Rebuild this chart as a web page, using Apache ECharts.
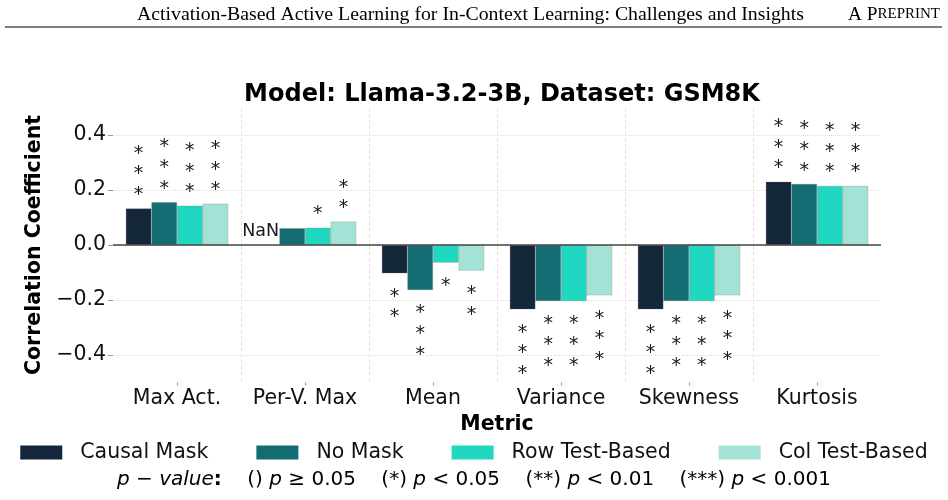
<!DOCTYPE html>
<html>
<head>
<meta charset="utf-8">
<script src="https://cdn.jsdelivr.net/npm/echarts@6/dist/echarts.min.js"></script>
<style>
html, body { margin: 0; padding: 0; background: #ffffff; }
#container { width: 948px; height: 500px; }
</style>
</head>
<body>
<div id="container"></div>
<script type="text/javascript">
// values (NaN = no value for that cell)
var metrics = ['Max Act.', 'Per-V. Max', 'Mean', 'Variance', 'Skewness', 'Kurtosis'];
var seriesNames = ['Causal Mask', 'No Mask', 'Row Test-Based', 'Col Test-Based'];
var colors = ['#13263a', '#136c72', '#20d8c0', '#a3e3d6'];

var causalMask = [0.133, NaN, -0.103, -0.234, -0.234, 0.230];
var noMask     = [0.156, 0.061, -0.164, -0.204, -0.204, 0.222];
var rowTest    = [0.143, 0.063, -0.064, -0.204, -0.204, 0.215];
var colTest    = [0.150, 0.085, -0.093, -0.183, -0.183, 0.215];

// number of stars (significance level) per bar
var causalStars = [3, 0, 2, 3, 3, 3];
var noMaskStars = [3, 0, 3, 3, 3, 3];
var rowStars    = [3, 1, 1, 3, 3, 3];
var colStars    = [3, 2, 2, 3, 3, 3];

var yTicks = [-0.4, -0.2, 0, 0.2, 0.4];
// category boundaries between the groups (dashed separators)
var groupEdges = [1, 2, 3, 4, 5];

var font = 'DejaVu Sans';

function starText(n) {
    var s = [];
    for (var k = 0; k < n; k++) s.push('*');
    return s.join('\n');
}

function buildData(values, stars) {
    return values.map(function (v, i) {
        if (isNaN(v)) {
            return {
                value: 0,
                itemStyle: { borderWidth: 0 },
                label: { show: true, position: 'top', distance: 4, offset: [-6, 0], formatter: 'NaN', fontSize: 17.5, lineHeight: 20 }
            };
        }
        return {
            value: v,
            label: {
                show: stars[i] > 0,
                position: v >= 0 ? 'top' : 'bottom',
                distance: v >= 0 ? 3 : 13,
                formatter: starText(stars[i])
            }
        };
    });
}

var allValues = [causalMask, noMask, rowTest, colTest];
var allStars = [causalStars, noMaskStars, rowStars, colStars];

var series = [];
for (var s = 0; s < 4; s++) {
    series.push({
        name: seriesNames[s],
        type: 'bar',
        barGap: '0%',
        barCategoryGap: '20%',
        itemStyle: { color: colors[s], borderColor: 'rgba(110,110,110,0.45)', borderWidth: 0.6 },
        label: {
            color: '#1a1a1a',
            fontFamily: font,
            fontSize: 19,
            lineHeight: 20.7
        },
        data: buildData(allValues[s], allStars[s])
    });
}
// zero line
series[0].markLine = {
    silent: true,
    symbol: 'none',
    label: { show: false },
    lineStyle: { color: '#444444', width: 1.6, type: 'solid' },
    data: [{ yAxis: 0 }]
};

var dom = document.getElementById("container");
var myChart = echarts.init(dom);
var option = {
    animation: false,
    backgroundColor: '#ffffff',
    textStyle: { fontFamily: font },
    title: {
        text: 'Model: Llama-3.2-3B, Dataset: GSM8K',
        left: 497,
        textAlign: 'center',
        top: 78,
        textStyle: { fontFamily: font, fontSize: 24, fontWeight: 'bold', color: '#000' }
    },
    grid: { left: 113, right: 67, top: 107.5, bottom: 117.5 },
    legend: {
        data: seriesNames,
        left: 'center',
        top: 437,
        itemWidth: 42,
        itemHeight: 14,
        itemGap: 48,
        icon: 'rect',
        itemStyle: { borderWidth: 0 },
        textStyle: { fontFamily: font, fontSize: 20.5, color: '#111', padding: [0, 0, 0, 13] }
    },
    xAxis: [
        {
            type: 'category',
            data: metrics,
            name: 'Metric',
            nameLocation: 'middle',
            nameGap: 32,
            nameTextStyle: { fontFamily: font, fontSize: 20.5, fontWeight: 'bold', color: '#000' },
            axisLine: { show: false, onZero: false },
            axisTick: { show: true, alignWithLabel: true, length: 3, lineStyle: { color: '#999' } },
            axisLabel: { fontFamily: font, fontSize: 20.5, color: '#111', margin: 6, interval: 0 },
            splitLine: { show: false }
        },
        {
            // helper axis only for the dashed separators between groups
            type: 'value',
            min: 0,
            max: metrics.length,
            position: 'bottom',
            axisLine: { show: false },
            axisTick: { show: false, customValues: groupEdges },
            axisLabel: { show: false, customValues: groupEdges },
            splitLine: { show: true, lineStyle: { type: 'dashed', color: '#e3e3e3', width: 1 } }
        }
    ],
    yAxis: {
        type: 'value',
        min: -0.5,
        max: 0.5,
        name: 'Correlation Coefficient',
        nameLocation: 'middle',
        nameGap: 60,
        nameTextStyle: { fontFamily: font, fontSize: 20.5, fontWeight: 'bold', color: '#000' },
        axisLine: { show: false },
        axisTick: { show: true, length: 5, customValues: yTicks, lineStyle: { color: '#999' } },
        axisLabel: {
            fontFamily: font,
            fontSize: 20.5,
            color: '#111',
            margin: 7,
            customValues: yTicks,
            formatter: function (v) {
                var t = Math.abs(v).toFixed(1);
                return v < -1e-9 ? '\u2212' + t : t;
            }
        },
        splitLine: { show: true, lineStyle: { type: 'dotted', color: '#dddddd', width: 1 } }
    },
    graphic: [
        {
            type: 'text',
            left: 137,
            top: 5,
            style: {
                text: 'Activation-Based Active Learning for In-Context Learning: Challenges and Insights',
                font: '19.8px "Liberation Serif"',
                fill: '#000'
            }
        },
        {
            type: 'text',
            left: 848,
            top: 5,
            style: {
                text: '{a|A P}{b|REPRINT}',
                rich: {
                    a: { fontFamily: 'Liberation Serif', fontSize: 19.3, fill: '#000' },
                    b: { fontFamily: 'Liberation Serif', fontSize: 15, fill: '#000' }
                }
            }
        },
        {
            type: 'line',
            shape: { x1: 5, y1: 27, x2: 942, y2: 27 },
            style: { stroke: '#000', lineWidth: 1.2 }
        },
        {
            type: 'text',
            left: 'center',
            top: 470,
            style: {
                text: '{i|p \u2212 value}{b|:}{n|    () }{i|p}{n| \u2265 0.05    (*) }{i|p}{n| < 0.05    (**) }{i|p}{n| < 0.01    (***) }{i|p}{n| < 0.001}',
                rich: {
                    i: { fontFamily: font, fontSize: 20, fontStyle: 'italic', fill: '#000' },
                    b: { fontFamily: font, fontSize: 20, fontWeight: 'bold', fill: '#000' },
                    n: { fontFamily: font, fontSize: 20, fill: '#000' }
                }
            }
        }
    ],
    series: series
};

if (option && typeof option === "object") {
    myChart.setOption(option, true);
}
</script>
</body>
</html>
